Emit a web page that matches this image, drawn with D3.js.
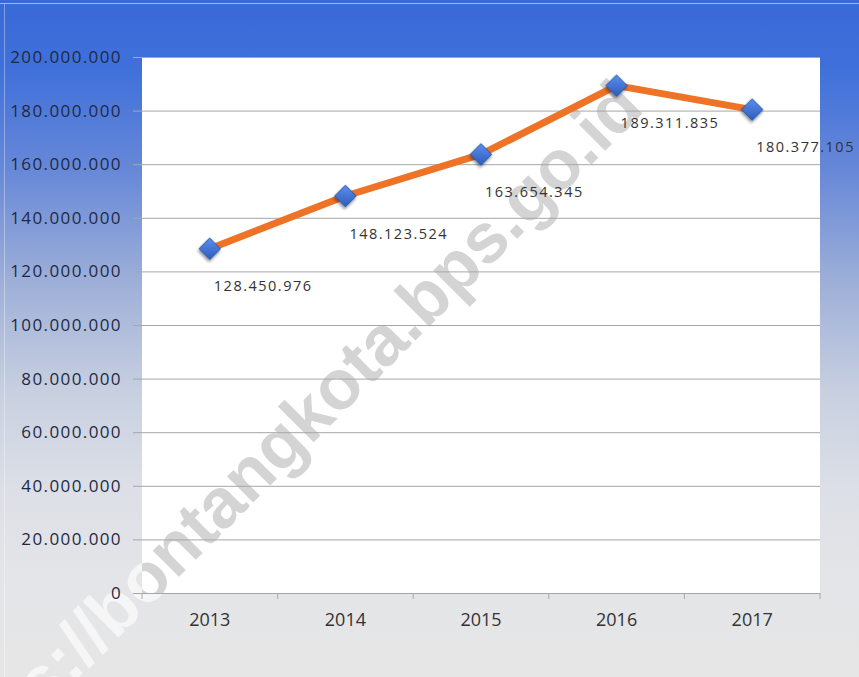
<!DOCTYPE html>
<html><head><meta charset="utf-8">
<script src="https://cdn.jsdelivr.net/npm/d3@7"></script>
<style>html,body{margin:0;padding:0;background:#e6e6e6;}svg{display:block;}</style>
</head><body><div id="chart"></div>
<script>
const years = ["2013","2014","2015","2016","2017"];
const values = [128450976, 148123524, 163654345, 189311835, 180377105];
const valueLabels = ["128.450.976","148.123.524","163.654.345","189.311.835","180.377.105"];
const yTicks = [0,20000000,40000000,60000000,80000000,100000000,120000000,140000000,160000000,180000000,200000000];
const yTickLabels = ["0","20.000.000","40.000.000","60.000.000","80.000.000","100.000.000","120.000.000","140.000.000","160.000.000","180.000.000","200.000.000"];
const watermark = "https://bontangkota.bps.go.id";

const W = 859, H = 677;
const m = {left:142, right:39, top:57, bottom:84};
const svg = d3.select("#chart").append("svg").attr("width",W).attr("height",H);
const defs = svg.append("defs");
const bg = defs.append("linearGradient").attr("id","bg").attr("x1",0).attr("y1",0).attr("x2",0).attr("y2",1);
[[0,"#3a69d8"],[0.1,"#3f70da"],[0.25,"#6788d8"],[0.42,"#9fb0d8"],[0.58,"#c8d0e0"],[0.72,"#dcdfe6"],[0.85,"#e4e5e8"],[1,"#e6e6e6"]]
  .forEach(([o,c])=>bg.append("stop").attr("offset",o).attr("stop-color",c));
const mk = defs.append("linearGradient").attr("id","mk").attr("x1",0).attr("y1",0).attr("x2",1).attr("y2",1);
mk.append("stop").attr("offset",0).attr("stop-color","#5b8ef0");
mk.append("stop").attr("offset",1).attr("stop-color","#2f5cb8");
const sh = defs.append("filter").attr("id","sh").attr("x","-50%").attr("y","-50%").attr("width","200%").attr("height","200%");
sh.append("feDropShadow").attr("dx",1).attr("dy",2).attr("stdDeviation",1.5).attr("flood-color","#000").attr("flood-opacity",0.45);

const x = d3.scaleBand().domain(years).range([m.left, W-m.right]);
const y = d3.scaleLinear().domain([0,200000000]).range([H-m.bottom, m.top]);
const pw = x.range()[1]-m.left, ph = y(0)-m.top;

defs.append("clipPath").attr("id","inPlot").append("rect").attr("x",m.left).attr("y",m.top).attr("width",pw).attr("height",ph);
const outMask = defs.append("mask").attr("id","outPlot");
outMask.append("rect").attr("width",W).attr("height",H).attr("fill","#fff");
outMask.append("rect").attr("x",m.left).attr("y",m.top).attr("width",pw).attr("height",ph).attr("fill","#000");

svg.append("rect").attr("width",W).attr("height",H).attr("fill","url(#bg)");
svg.append("line").attr("x1",0).attr("x2",W).attr("y1",3.5).attr("y2",3.5).attr("stroke","#9fb6ea").attr("stroke-width",1);
svg.append("line").attr("x1",4.5).attr("x2",4.5).attr("y1",4).attr("y2",H).attr("stroke","#fff").attr("stroke-opacity",0.35).attr("stroke-width",1);

svg.append("rect").attr("x",m.left).attr("y",m.top).attr("width",pw).attr("height",ph).attr("fill","#fff");

// watermark (gray inside plot, whitish outside)
const wmT = "translate(281,441) rotate(-45)";
function wm(g){ g.append("text").attr("transform",wmT)
  .attr("text-anchor","middle").attr("dominant-baseline","central")
  .attr("font-family","'Liberation Sans',Arial,sans-serif").attr("font-weight","bold").attr("font-size",70)
  .text(watermark); }
wm(svg.append("g").attr("clip-path","url(#inPlot)").attr("fill","#d4d4d4"));
wm(svg.append("g").attr("mask","url(#outPlot)").attr("fill","#f6f6f6"));

// y axis
const yAxis = d3.axisLeft(y).tickValues(yTicks).tickSize(pw+9).tickFormat((d,i)=>yTickLabels[i]);
const gy = svg.append("g").attr("transform",`translate(${x.range()[1]},0)`).call(yAxis);
gy.select(".domain").remove();
gy.selectAll(".tick line").attr("stroke","#a6a6a6").attr("stroke-width",1);
gy.selectAll(".tick text").attr("x",-pw-20).attr("font-family","'Open Sans',sans-serif")
  .attr("font-size",17).attr("letter-spacing",1.4).attr("fill","#1e2a44");

// x axis
const xAxis = d3.axisBottom(x).tickSize(0).tickPadding(20);
const gx = svg.append("g").attr("transform",`translate(0,${y(0)})`).call(xAxis);
gx.select(".domain").attr("stroke","#a6a6a6");
gx.selectAll(".tick text").attr("font-family","'Open Sans',sans-serif").attr("font-size",18).attr("fill","#333");
const bounds = years.map(d=>x(d)).concat([x.range()[1]]);
svg.append("g").selectAll("line").data(bounds).join("line")
  .attr("x1",d=>d).attr("x2",d=>d).attr("y1",y(0)).attr("y2",y(0)+6).attr("stroke","#aaa");

// line
const line = d3.line().x((d,i)=>x(years[i])+x.bandwidth()/2).y(d=>y(d));
svg.append("path").datum(values).attr("d",line).attr("fill","none").attr("stroke","#ee7326").attr("stroke-width",7).attr("stroke-linejoin","round");

// markers
svg.append("g").selectAll("path").data(values).join("path")
  .attr("d",d3.symbol().type(d3.symbolSquare).size(230))
  .attr("transform",(d,i)=>`translate(${x(years[i])+x.bandwidth()/2},${y(d)}) rotate(45)`)
  .attr("fill","url(#mk)").attr("stroke","#2a55a8").attr("stroke-width",0.8).attr("filter","url(#sh)");

// data labels
svg.append("g").selectAll("text").data(values).join("text")
  .attr("x",(d,i)=>x(years[i])+x.bandwidth()/2+4).attr("y",d=>y(d)+37)
  .attr("dominant-baseline","central")
  .attr("font-family","'Open Sans',sans-serif").attr("font-size",14.5).attr("letter-spacing",1.5).attr("fill","#333")
  .text((d,i)=>valueLabels[i]);
</script></body></html>
